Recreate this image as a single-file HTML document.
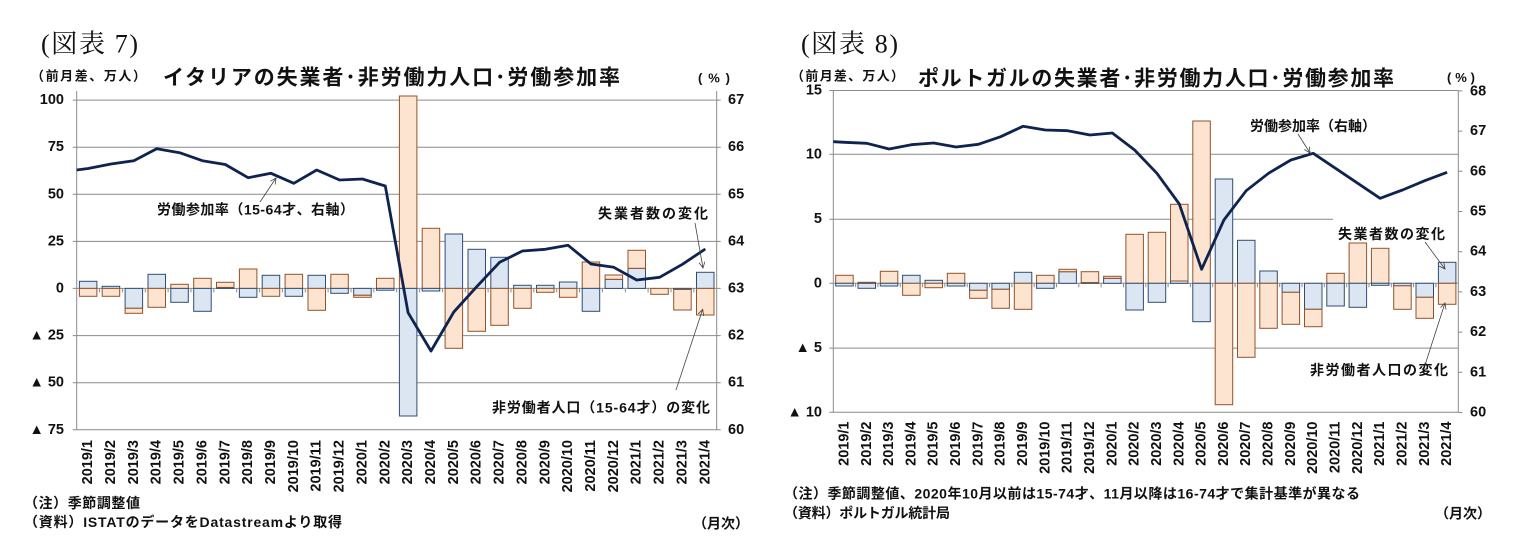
<!DOCTYPE html>
<html><head><meta charset="utf-8"><style>
html,body{margin:0;padding:0;background:#fff;}
svg{display:block;}
text{font-family:"Liberation Sans","Noto Sans CJK JP",sans-serif;font-weight:bold;fill:#111;}
.serif{font-family:"Liberation Serif","Noto Serif CJK JP",serif;font-weight:normal;}
.g{stroke:#8a8a8a;stroke-width:1;fill:none;}
.b{fill:#dce6f2;stroke:#2f4d73;stroke-width:1;}
.o{fill:#fde4d0;stroke:#93522a;stroke-width:1;}
.ln{fill:none;stroke:#0f2350;stroke-width:2.8;stroke-linejoin:round;}
.ar{stroke:#444;stroke-width:0.8;fill:none;}
</style></head><body>
<svg width="1520" height="554" viewBox="0 0 1520 554" xmlns="http://www.w3.org/2000/svg">
<defs>
<marker id="ah" markerWidth="8" markerHeight="8" refX="6" refY="3" orient="auto" markerUnits="userSpaceOnUse">
<path d="M0,0 L6,3 L0,6" fill="none" stroke="#444" stroke-width="0.8"/>
</marker>
</defs>

<!-- ================= CHART 1 ================= -->
<text class="serif" x="41" y="44" font-size="26" dominant-baseline="central" textLength="97">(図表 7)</text>
<text x="31" y="76" font-size="13" dominant-baseline="central" textLength="115">（前月差、万人）</text>
<text x="163" y="78" font-size="21" dominant-baseline="central" textLength="457">イタリアの失業者･非労働力人口･労働参加率</text>
<text x="698" y="78" font-size="13" dominant-baseline="central" textLength="32">(%)</text>

<!-- gridlines -->
<g class="g">
<line x1="72.7" y1="100.1" x2="720.7" y2="100.1"/>
<line x1="72.7" y1="147.2" x2="720.7" y2="147.2"/>
<line x1="72.7" y1="194.3" x2="720.7" y2="194.3"/>
<line x1="72.7" y1="241.4" x2="720.7" y2="241.4"/>
<line x1="72.7" y1="288.4" x2="720.7" y2="288.4"/>
<line x1="72.7" y1="335.6" x2="720.7" y2="335.6"/>
<line x1="72.7" y1="382.7" x2="720.7" y2="382.7"/>
<line x1="72.7" y1="429.8" x2="720.7" y2="429.8"/>
<line x1="76.7" y1="91" x2="76.7" y2="429.8"/>
<line x1="716.7" y1="91" x2="716.7" y2="429.8"/>
<path d="M99.6,288.4v4M122.4,288.4v4M145.3,288.4v4M168.1,288.4v4M191,288.4v4M213.8,288.4v4M236.7,288.4v4M259.6,288.4v4M282.4,288.4v4M305.3,288.4v4M328.1,288.4v4M351,288.4v4M373.8,288.4v4M396.7,288.4v4M419.6,288.4v4M442.4,288.4v4M465.3,288.4v4M488.1,288.4v4M511,288.4v4M533.8,288.4v4M556.7,288.4v4M579.6,288.4v4M602.4,288.4v4M625.3,288.4v4M648.1,288.4v4M671,288.4v4M693.8,288.4v4"/>
</g>

<!-- bars chart 1 -->
<g>
<rect class="b" x="79.4" y="281.3" width="17.5" height="7.1"/><rect class="o" x="79.4" y="288.4" width="17.5" height="7.9"/>
<rect class="b" x="102.2" y="286.3" width="17.5" height="2.1"/><rect class="o" x="102.2" y="288.4" width="17.5" height="7.9"/>
<rect class="b" x="125.1" y="288.4" width="17.5" height="19.9"/><rect class="o" x="125.1" y="308.3" width="17.5" height="5"/>
<rect class="b" x="148" y="274.3" width="17.5" height="14.1"/><rect class="o" x="148" y="288.4" width="17.5" height="18.9"/>
<rect class="o" x="170.8" y="284.3" width="17.5" height="4.1"/><rect class="b" x="170.8" y="288.4" width="17.5" height="13.9"/>
<rect class="o" x="193.7" y="278.3" width="17.5" height="10.1"/><rect class="b" x="193.7" y="288.4" width="17.5" height="22.9"/>
<rect class="b" x="216.5" y="287.4" width="17.5" height="1"/><rect class="o" x="216.5" y="282.3" width="17.5" height="5.1"/>
<rect class="o" x="239.4" y="269" width="17.5" height="19.4"/><rect class="b" x="239.4" y="288.4" width="17.5" height="8.9"/>
<rect class="b" x="262.2" y="275.3" width="17.5" height="13.1"/><rect class="o" x="262.2" y="288.4" width="17.5" height="7.9"/>
<rect class="o" x="285.1" y="274.3" width="17.5" height="14.1"/><rect class="b" x="285.1" y="288.4" width="17.5" height="7.9"/>
<rect class="b" x="308" y="275.3" width="17.5" height="13.1"/><rect class="o" x="308" y="288.4" width="17.5" height="21.9"/>
<rect class="o" x="330.8" y="274.3" width="17.5" height="14.1"/><rect class="b" x="330.8" y="288.4" width="17.5" height="4.9"/>
<rect class="b" x="353.7" y="288.4" width="17.5" height="6.9"/><rect class="o" x="353.7" y="295.3" width="17.5" height="2"/>
<rect class="o" x="376.5" y="278.3" width="17.5" height="10.1"/><rect class="b" x="376.5" y="288.4" width="17.5" height="1.8"/>
<rect class="o" x="399.4" y="96" width="17.5" height="192.4"/><rect class="b" x="399.4" y="288.4" width="17.5" height="127.6"/>
<rect class="o" x="422.2" y="228.3" width="17.5" height="60.1"/><rect class="b" x="422.2" y="288.4" width="17.5" height="2.6"/>
<rect class="b" x="445.1" y="234" width="17.5" height="54.4"/><rect class="o" x="445.1" y="288.4" width="17.5" height="59.9"/>
<rect class="b" x="468" y="249.3" width="17.5" height="39.1"/><rect class="o" x="468" y="288.4" width="17.5" height="42.9"/>
<rect class="b" x="490.8" y="257.3" width="17.5" height="31.1"/><rect class="o" x="490.8" y="288.4" width="17.5" height="36.9"/>
<rect class="b" x="513.7" y="285.3" width="17.5" height="3.1"/><rect class="o" x="513.7" y="288.4" width="17.5" height="19.9"/>
<rect class="b" x="536.5" y="285.3" width="17.5" height="3.1"/><rect class="o" x="536.5" y="288.4" width="17.5" height="3.9"/>
<rect class="b" x="559.4" y="282" width="17.5" height="6.4"/><rect class="o" x="559.4" y="288.4" width="17.5" height="8.9"/>
<rect class="o" x="582.2" y="262" width="17.5" height="26.4"/><rect class="b" x="582.2" y="288.4" width="17.5" height="22.9"/>
<rect class="b" x="605.1" y="279.3" width="17.5" height="9.1"/><rect class="o" x="605.1" y="275" width="17.5" height="4.3"/>
<rect class="b" x="628" y="268.3" width="17.5" height="20.1"/><rect class="o" x="628" y="250.3" width="17.5" height="18"/>
<rect class="o" x="650.8" y="288.4" width="17.5" height="5.9"/>
<rect class="b" x="673.7" y="288.4" width="17.5" height="1.1"/><rect class="o" x="673.7" y="289.5" width="17.5" height="20.5"/>
<rect class="b" x="696.5" y="272.3" width="17.5" height="16.1"/><rect class="o" x="696.5" y="288.4" width="17.5" height="26.6"/>
</g>

<!-- line chart 1 -->
<polyline class="ln" points="76.7,170 88.1,168.5 111,164 133.8,160.7 156.7,148.7 179.6,152.7 202.4,160.7 225.3,164.5 248.1,177.7 271,173.3 293.8,183.3 316.7,170 339.6,180 362.4,179 385.3,186 408.1,312.7 431,351 453.8,312 476.7,286.7 499.6,262.3 522.4,251 545.3,249.3 568.1,245.3 591,264 613.8,267.3 636.7,280 659.6,277.3 682.4,264.3 705.3,249"/>

<!-- axis labels chart 1 -->
<g font-size="14.5" text-anchor="end" dominant-baseline="central">
<text x="64" y="100.1">100</text>
<text x="64" y="147.2">75</text>
<text x="64" y="194.3">50</text>
<text x="64" y="241.4">25</text>
<text x="64" y="288.4">0</text>
<text x="64" y="335.6">▲ 25</text>
<text x="64" y="382.7">▲ 50</text>
<text x="64" y="429.8">▲ 75</text>
</g>
<g font-size="14.5" dominant-baseline="central">
<text x="728" y="100.1">67</text>
<text x="728" y="147.2">66</text>
<text x="728" y="194.3">65</text>
<text x="728" y="241.4">64</text>
<text x="728" y="288.4">63</text>
<text x="728" y="335.6">62</text>
<text x="728" y="382.7">61</text>
<text x="728" y="429.8">60</text>
</g>
<g font-size="14.5" text-anchor="end" dominant-baseline="central">
<text transform="translate(88.1,440) rotate(-90)">2019/1</text>
<text transform="translate(111,440) rotate(-90)">2019/2</text>
<text transform="translate(133.8,440) rotate(-90)">2019/3</text>
<text transform="translate(156.7,440) rotate(-90)">2019/4</text>
<text transform="translate(179.6,440) rotate(-90)">2019/5</text>
<text transform="translate(202.4,440) rotate(-90)">2019/6</text>
<text transform="translate(225.3,440) rotate(-90)">2019/7</text>
<text transform="translate(248.1,440) rotate(-90)">2019/8</text>
<text transform="translate(271,440) rotate(-90)">2019/9</text>
<text transform="translate(293.8,440) rotate(-90)">2019/10</text>
<text transform="translate(316.7,440) rotate(-90)">2019/11</text>
<text transform="translate(339.6,440) rotate(-90)">2019/12</text>
<text transform="translate(362.4,440) rotate(-90)">2020/1</text>
<text transform="translate(385.3,440) rotate(-90)">2020/2</text>
<text transform="translate(408.1,440) rotate(-90)">2020/3</text>
<text transform="translate(431,440) rotate(-90)">2020/4</text>
<text transform="translate(453.8,440) rotate(-90)">2020/5</text>
<text transform="translate(476.7,440) rotate(-90)">2020/6</text>
<text transform="translate(499.6,440) rotate(-90)">2020/7</text>
<text transform="translate(522.4,440) rotate(-90)">2020/8</text>
<text transform="translate(545.3,440) rotate(-90)">2020/9</text>
<text transform="translate(568.1,440) rotate(-90)">2020/10</text>
<text transform="translate(591,440) rotate(-90)">2020/11</text>
<text transform="translate(613.8,440) rotate(-90)">2020/12</text>
<text transform="translate(636.7,440) rotate(-90)">2021/1</text>
<text transform="translate(659.6,440) rotate(-90)">2021/2</text>
<text transform="translate(682.4,440) rotate(-90)">2021/3</text>
<text transform="translate(705.3,440) rotate(-90)">2021/4</text>
</g>

<!-- annotations chart 1 -->
<g font-size="14" dominant-baseline="central">
<text x="157" y="209.5" textLength="197">労働参加率（15-64才、右軸）</text>
<text x="598" y="213.5" textLength="110">失業者数の変化</text>
<text x="492" y="407.5" textLength="218">非労働者人口（15-64才）の変化</text>
</g>
<line class="ar" x1="260" y1="202" x2="276" y2="178" marker-end="url(#ah)"/>
<line class="ar" x1="695" y1="223" x2="703" y2="268" marker-end="url(#ah)"/>
<line class="ar" x1="676" y1="390" x2="702.7" y2="309.3" marker-end="url(#ah)"/>

<!-- footer chart 1 -->
<g font-size="14" dominant-baseline="central">
<text x="24" y="503" textLength="116">（注）季節調整値</text>
<text x="24" y="522" textLength="318">（資料）ISTATのデータをDatastreamより取得</text>
<text x="693" y="523.5">（月次）</text>
</g>

<!-- ================= CHART 2 ================= -->
<text class="serif" x="801" y="44" font-size="26" dominant-baseline="central" textLength="97">(図表 8)</text>
<text x="791" y="76" font-size="13" dominant-baseline="central" textLength="113">（前月差、万人）</text>
<text x="918" y="79" font-size="21" dominant-baseline="central" textLength="476">ポルトガルの失業者･非労働力人口･労働参加率</text>
<text x="1447" y="77.5" font-size="13" dominant-baseline="central" textLength="28">(%)</text>

<g class="g">
<line x1="829.3" y1="90.5" x2="1458.3" y2="90.5"/>
<line x1="829.3" y1="154.3" x2="1458.3" y2="154.3"/>
<line x1="829.3" y1="219.2" x2="1333" y2="219.2"/>
<line x1="829.3" y1="283.3" x2="1458.3" y2="283.3"/>
<line x1="829.3" y1="348.1" x2="1458.3" y2="348.1"/>
<line x1="829.3" y1="412.3" x2="1458.3" y2="412.3"/>
<line x1="833.3" y1="90.5" x2="833.3" y2="412.3"/>
<line x1="1458.3" y1="90.5" x2="1458.3" y2="412.3"/>
<path d="M1458.3,90.9h4M1458.3,131.1h4M1458.3,171.3h4M1458.3,211.5h4M1458.3,251.7h4M1458.3,291.9h4M1458.3,332.1h4M1458.3,372.3h4M1458.3,412.5h4"/>
<path d="M855.6,283.3v4M877.9,283.3v4M900.3,283.3v4M922.6,283.3v4M944.9,283.3v4M967.2,283.3v4M989.5,283.3v4M1011.9,283.3v4M1034.2,283.3v4M1056.5,283.3v4M1078.8,283.3v4M1101.1,283.3v4M1123.5,283.3v4M1145.8,283.3v4M1168.1,283.3v4M1190.4,283.3v4M1212.7,283.3v4M1235.1,283.3v4M1257.4,283.3v4M1279.7,283.3v4M1302,283.3v4M1324.3,283.3v4M1346.7,283.3v4M1369,283.3v4M1391.3,283.3v4M1413.6,283.3v4M1435.9,283.3v4"/>
</g>

<g>
<rect class="o" x="835.7" y="275.3" width="17.5" height="8"/><rect class="b" x="835.7" y="283.3" width="17.5" height="2.7"/>
<rect class="o" x="858" y="282.3" width="17.5" height="1"/><rect class="b" x="858" y="283.3" width="17.5" height="5"/>
<rect class="o" x="880.3" y="271.3" width="17.5" height="12"/><rect class="b" x="880.3" y="283.3" width="17.5" height="2.7"/>
<rect class="b" x="902.6" y="275.3" width="17.5" height="8"/><rect class="o" x="902.6" y="283.3" width="17.5" height="12"/>
<rect class="b" x="925" y="280.3" width="17.5" height="3"/><rect class="o" x="925" y="283.3" width="17.5" height="4.4"/>
<rect class="o" x="947.3" y="273.3" width="17.5" height="10"/><rect class="b" x="947.3" y="283.3" width="17.5" height="2.7"/>
<rect class="b" x="969.6" y="283.3" width="17.5" height="7"/><rect class="o" x="969.6" y="290.3" width="17.5" height="8"/>
<rect class="b" x="991.9" y="283.3" width="17.5" height="6"/><rect class="o" x="991.9" y="289.3" width="17.5" height="19"/>
<rect class="b" x="1014.3" y="272.3" width="17.5" height="11"/><rect class="o" x="1014.3" y="283.3" width="17.5" height="26"/>
<rect class="o" x="1036.6" y="275.3" width="17.5" height="8"/><rect class="b" x="1036.6" y="283.3" width="17.5" height="5"/>
<rect class="b" x="1058.9" y="271.7" width="17.5" height="11.6"/><rect class="o" x="1058.9" y="269.3" width="17.5" height="2.4"/>
<rect class="b" x="1081.2" y="282.5" width="17.5" height="0.8"/><rect class="o" x="1081.2" y="271.7" width="17.5" height="10.8"/>
<rect class="b" x="1103.6" y="278.3" width="17.5" height="5"/><rect class="o" x="1103.6" y="276.3" width="17.5" height="2"/>
<rect class="o" x="1125.9" y="234.3" width="17.5" height="49"/><rect class="b" x="1125.9" y="283.3" width="17.5" height="26.7"/>
<rect class="o" x="1148.2" y="232.3" width="17.5" height="51"/><rect class="b" x="1148.2" y="283.3" width="17.5" height="19"/>
<rect class="b" x="1170.5" y="281" width="17.5" height="2.3"/><rect class="o" x="1170.5" y="204.3" width="17.5" height="76.7"/>
<rect class="o" x="1192.8" y="121" width="17.5" height="162.3"/><rect class="b" x="1192.8" y="283.3" width="17.5" height="38.4"/>
<rect class="b" x="1215.2" y="179" width="17.5" height="104.3"/><rect class="o" x="1215.2" y="283.3" width="17.5" height="121.4"/>
<rect class="b" x="1237.5" y="240.3" width="17.5" height="43"/><rect class="o" x="1237.5" y="283.3" width="17.5" height="74"/>
<rect class="b" x="1259.8" y="271" width="17.5" height="12.3"/><rect class="o" x="1259.8" y="283.3" width="17.5" height="45"/>
<rect class="b" x="1282.1" y="283.3" width="17.5" height="9"/><rect class="o" x="1282.1" y="292.3" width="17.5" height="32"/>
<rect class="b" x="1304.5" y="283.3" width="17.5" height="26"/><rect class="o" x="1304.5" y="309.3" width="17.5" height="17.4"/>
<rect class="o" x="1326.8" y="273.3" width="17.5" height="10"/><rect class="b" x="1326.8" y="283.3" width="17.5" height="22.7"/>
<rect class="o" x="1349.1" y="243" width="17.5" height="40.3"/><rect class="b" x="1349.1" y="283.3" width="17.5" height="24"/>
<rect class="o" x="1371.4" y="248.3" width="17.5" height="35"/><rect class="b" x="1371.4" y="283.3" width="17.5" height="2"/>
<rect class="b" x="1393.7" y="283.3" width="17.5" height="2.5"/><rect class="o" x="1393.7" y="285.8" width="17.5" height="23.5"/>
<rect class="b" x="1416" y="283.3" width="17.5" height="14"/><rect class="o" x="1416" y="297.3" width="17.5" height="21"/>
<rect class="b" x="1438.4" y="262.3" width="17.5" height="21"/><rect class="o" x="1438.4" y="283.3" width="17.5" height="21"/>
</g>

<polyline class="ln" points="833.3,141.7 844.5,142.3 866.8,143.3 889.1,149 911.4,144.7 933.7,143 956.1,147 978.4,144.3 1000.7,136.7 1023,126.3 1045.3,130 1067.7,130.7 1090,135 1112.3,133 1134.6,150 1156.9,173.3 1179.3,204 1201.6,269.3 1223.9,220 1246.2,190.7 1268.5,173.3 1290.9,160 1313.2,153.3 1335.5,168.3 1357.8,183.3 1380.1,198.3 1402.5,190 1424.8,180.7 1447.1,172.3"/>

<g font-size="14.5" text-anchor="end" dominant-baseline="central">
<text x="822" y="90.5">15</text>
<text x="822" y="154.3">10</text>
<text x="822" y="219.2">5</text>
<text x="822" y="283.3">0</text>
<text x="822" y="348.1">▲ 5</text>
<text x="822" y="412.3">▲ 10</text>
</g>
<g font-size="14.5" dominant-baseline="central">
<text x="1470" y="91.5">68</text>
<text x="1470" y="131.1">67</text>
<text x="1470" y="171.3">66</text>
<text x="1470" y="211.5">65</text>
<text x="1470" y="251.7">64</text>
<text x="1470" y="291.9">63</text>
<text x="1470" y="332.1">62</text>
<text x="1470" y="372.3">61</text>
<text x="1470" y="412.5">60</text>
</g>
<g font-size="14.5" text-anchor="end" dominant-baseline="central">
<text transform="translate(844.5,421.5) rotate(-90)">2019/1</text>
<text transform="translate(866.8,421.5) rotate(-90)">2019/2</text>
<text transform="translate(889.1,421.5) rotate(-90)">2019/3</text>
<text transform="translate(911.4,421.5) rotate(-90)">2019/4</text>
<text transform="translate(933.7,421.5) rotate(-90)">2019/5</text>
<text transform="translate(956.1,421.5) rotate(-90)">2019/6</text>
<text transform="translate(978.4,421.5) rotate(-90)">2019/7</text>
<text transform="translate(1000.7,421.5) rotate(-90)">2019/8</text>
<text transform="translate(1023,421.5) rotate(-90)">2019/9</text>
<text transform="translate(1045.3,421.5) rotate(-90)">2019/10</text>
<text transform="translate(1067.7,421.5) rotate(-90)">2019/11</text>
<text transform="translate(1090,421.5) rotate(-90)">2019/12</text>
<text transform="translate(1112.3,421.5) rotate(-90)">2020/1</text>
<text transform="translate(1134.6,421.5) rotate(-90)">2020/2</text>
<text transform="translate(1156.9,421.5) rotate(-90)">2020/3</text>
<text transform="translate(1179.3,421.5) rotate(-90)">2020/4</text>
<text transform="translate(1201.6,421.5) rotate(-90)">2020/5</text>
<text transform="translate(1223.9,421.5) rotate(-90)">2020/6</text>
<text transform="translate(1246.2,421.5) rotate(-90)">2020/7</text>
<text transform="translate(1268.5,421.5) rotate(-90)">2020/8</text>
<text transform="translate(1290.9,421.5) rotate(-90)">2020/9</text>
<text transform="translate(1313.2,421.5) rotate(-90)">2020/10</text>
<text transform="translate(1335.5,421.5) rotate(-90)">2020/11</text>
<text transform="translate(1357.8,421.5) rotate(-90)">2020/12</text>
<text transform="translate(1380.1,421.5) rotate(-90)">2021/1</text>
<text transform="translate(1402.5,421.5) rotate(-90)">2021/2</text>
<text transform="translate(1424.8,421.5) rotate(-90)">2021/3</text>
<text transform="translate(1447.1,421.5) rotate(-90)">2021/4</text>
</g>

<g font-size="14" dominant-baseline="central">
<text x="1250" y="126" textLength="126">労働参加率（右軸）</text>
<text x="1338" y="234" textLength="107">失業者数の変化</text>
<text x="1310" y="370" textLength="138">非労働者人口の変化</text>
</g>
<line class="ar" x1="1298" y1="134" x2="1310" y2="153" marker-end="url(#ah)"/>
<line class="ar" x1="1425" y1="242" x2="1445" y2="269" marker-end="url(#ah)"/>
<line class="ar" x1="1425" y1="365" x2="1445" y2="303" marker-end="url(#ah)"/>

<g font-size="14" dominant-baseline="central">
<text x="784" y="493.5" textLength="576">（注）季節調整値、2020年10月以前は15-74才、11月以降は16-74才で集計基準が異なる</text>
<text x="784" y="513" textLength="166">（資料）ポルトガル統計局</text>
<text x="1435" y="513.5">（月次）</text>
</g>
</svg>
</body></html>
